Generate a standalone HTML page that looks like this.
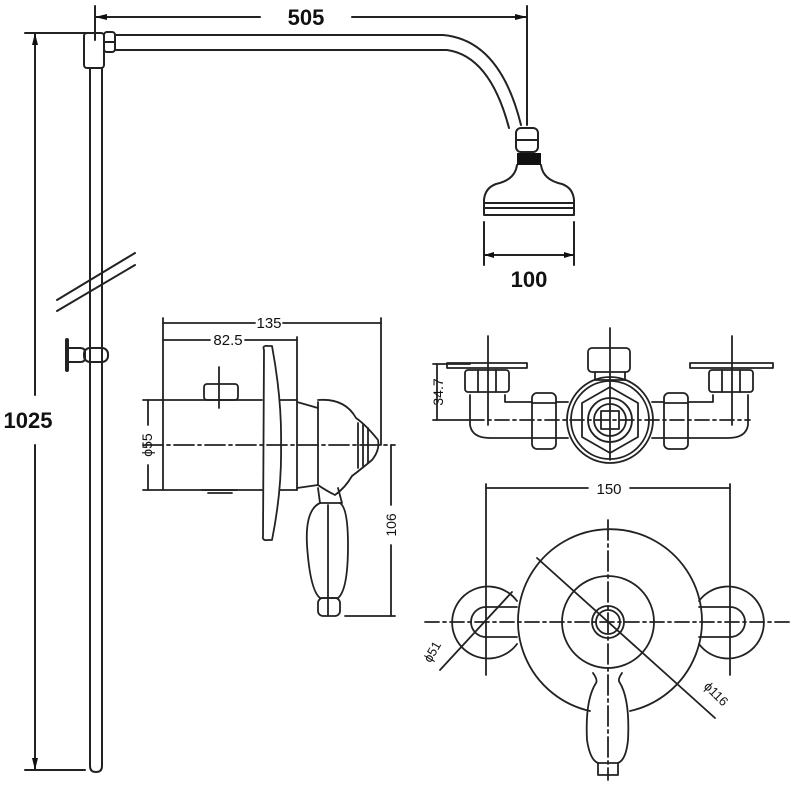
<!DOCTYPE html>
<html><head><meta charset="utf-8"><style>
html,body{margin:0;padding:0;background:#fff}
svg{display:block}
text{font-family:"Liberation Sans",sans-serif;fill:#111}
</style></head><body>
<svg width="800" height="800" viewBox="0 0 800 800" xmlns="http://www.w3.org/2000/svg">
<g fill="none" stroke="#222" stroke-width="2" stroke-linecap="round" stroke-linejoin="round">
<line x1="95" y1="6" x2="95" y2="40"/>
<line x1="527" y1="6" x2="527" y2="125"/>
<line x1="95" y1="17" x2="260" y2="17"/>
<line x1="352" y1="17" x2="527" y2="17"/>
<line x1="25" y1="33" x2="88" y2="33"/>
<line x1="25" y1="770" x2="85" y2="770"/>
<line x1="35" y1="33" x2="35" y2="395"/>
<line x1="35" y1="445" x2="35" y2="770"/>
<path d="M90 68 V766 Q90 772 96 772 Q102 772 102 766 V68"/>
<rect x="84" y="33" width="20" height="35" rx="3"/>
<rect x="104" y="32" width="11" height="20" rx="3"/>
<line x1="104" y1="42" x2="115" y2="42"/>
<path d="M115 35 H443 Q500 40 521 125"/>
<path d="M115 50 H447 Q490 56 509 128"/>
<rect x="516" y="128" width="22" height="24" rx="5"/>
<line x1="516" y1="140" x2="538" y2="140"/>
<path d="M517 165 Q515 180 496 184 Q485 188 484 200 V215 H574 V200 Q573 188 562 184 Q543 180 541 165"/>
<line x1="484" y1="203" x2="574" y2="203"/>
<line x1="484" y1="208" x2="574" y2="208"/>
<line x1="484" y1="222" x2="484" y2="265"/>
<line x1="574" y1="222" x2="574" y2="265"/>
<line x1="484" y1="255" x2="574" y2="255"/>
<line x1="57" y1="300" x2="135" y2="253"/>
<line x1="57" y1="311" x2="135" y2="265"/>
<line x1="67" y1="340" x2="67" y2="370" stroke-width="4"/>
<path d="M67 348 H80 Q85 348 85 352 V358 Q85 362 80 362 H67"/>
<rect x="84" y="348" width="24" height="14" rx="6"/>

<g stroke-width="1.8">
<line x1="163" y1="318" x2="163" y2="490"/>
<line x1="297" y1="337" x2="297" y2="490"/>
<line x1="381" y1="318" x2="381" y2="445"/>
<line x1="163" y1="323" x2="255" y2="323"/><line x1="283" y1="323" x2="381" y2="323"/>
<line x1="163" y1="340" x2="210" y2="340"/><line x1="245" y1="340" x2="297" y2="340"/>
<line x1="143" y1="400" x2="262" y2="400"/><line x1="143" y1="490" x2="262" y2="490"/>
<line x1="148" y1="400" x2="148" y2="425"/><line x1="148" y1="465" x2="148" y2="490"/>
<rect x="204" y="384" width="34" height="16" rx="3"/>
<line x1="219" y1="367" x2="219" y2="408"/>
<path d="M202 490 H237 M208 493 H232"/>
<path d="M264 350 Q262 345 268 346 H272 Q282 400 281 445 Q282 490 272 540 H268 Q262 541 263 536 Z"/>
<line x1="280" y1="400" x2="297" y2="400"/><line x1="280" y1="490" x2="297" y2="490"/>
<path d="M297 402 L318 408 M297 488 L318 485"/>
<path d="M318 402 V485 M318 400 Q345 398 356 418 Q366 425 378 440 Q380 450 372 460 Q360 470 352 476 Q345 488 335 495 Q325 490 318 485"/>
<path d="M358 423 V468 M363 425 V466 M368 428 V463"/>
<line x1="143" y1="445" x2="395" y2="445" stroke-dasharray="20 4 3 4"/>
<path d="M318 488 L320 503 H342 L338 488"/>
<path d="M320 503 Q305 510 307 545 Q310 590 320 598 H338 Q348 590 348 545 Q348 508 340 503"/>
<line x1="328" y1="505" x2="328" y2="615"/>
<rect x="318" y="598" width="22" height="18" rx="5"/>
<line x1="345" y1="616" x2="395" y2="616"/>
<line x1="391" y1="445" x2="391" y2="505"/><line x1="391" y1="545" x2="391" y2="616"/>
</g>

<g stroke-width="1.8">
<line x1="437" y1="364" x2="437" y2="420"/>
<line x1="433" y1="364" x2="470" y2="364"/><line x1="433" y1="420" x2="470" y2="420"/>
<rect x="447" y="363" width="80" height="5"/>
<rect x="690" y="363" width="83" height="5"/>
<rect x="465" y="370" width="44" height="22" rx="3"/>
<rect x="709" y="370" width="44" height="22" rx="3"/>
<line x1="478" y1="370" x2="478" y2="392"/><line x1="496" y1="370" x2="496" y2="392"/>
<line x1="722" y1="370" x2="722" y2="392"/><line x1="740" y1="370" x2="740" y2="392"/>
<path d="M470 395 V425 Q472 438 490 438 H532 M505 395 V402 Q505 402 510 402 H532"/>
<path d="M748 395 V425 Q746 438 728 438 H688 M713 395 V402 H688"/>
<rect x="532" y="393" width="24" height="56" rx="5"/>
<rect x="664" y="393" width="24" height="56" rx="5"/>
<line x1="532" y1="403" x2="556" y2="403"/><line x1="532" y1="438" x2="556" y2="438"/>
<line x1="664" y1="403" x2="688" y2="403"/><line x1="664" y1="438" x2="688" y2="438"/>
<line x1="556" y1="402" x2="568" y2="402"/><line x1="556" y1="438" x2="568" y2="438"/>
<line x1="652" y1="402" x2="664" y2="402"/><line x1="652" y1="438" x2="664" y2="438"/>
<circle cx="610" cy="420" r="43"/><circle cx="610" cy="420" r="39"/>
<polygon points="610,387 638,403 638,437 610,453 582,437 582,403"/>
<circle cx="610" cy="420" r="22"/><circle cx="610" cy="420" r="16"/>
<rect x="601" y="411" width="18" height="18"/>
<rect x="588" y="348" width="42" height="24" rx="4"/>
<line x1="595" y1="372" x2="595" y2="380"/><line x1="625" y1="372" x2="625" y2="380"/>
<line x1="595" y1="380" x2="625" y2="380"/>
<line x1="610" y1="328" x2="610" y2="460"/>
<line x1="488" y1="336" x2="488" y2="425"/>
<line x1="732" y1="336" x2="732" y2="425"/>
<line x1="470" y1="420" x2="750" y2="420" stroke-dasharray="14 4 3 4"/>
</g>

<g stroke-width="1.8">
<line x1="486" y1="484" x2="486" y2="675"/>
<line x1="730" y1="484" x2="730" y2="675"/>
<line x1="486" y1="488" x2="588" y2="488"/><line x1="630" y1="488" x2="730" y2="488"/>
<path d="M517 601 A36 36 0 1 0 517 644"/>
<path d="M699 601 A36 36 0 1 1 699 644"/>
<path d="M517 607 H486 A15 15 0 0 0 486 637 H517"/>
<path d="M699 607 H730 A15 15 0 0 1 730 637 H699"/>
<path d="M590 711 A92 92 0 1 1 630 711"/>
<circle cx="608" cy="622" r="46"/>
<circle cx="608" cy="622" r="16"/><circle cx="608" cy="622" r="12"/>
<line x1="425" y1="622" x2="790" y2="622" stroke-dasharray="14 4 3 4"/>
<line x1="608" y1="520" x2="608" y2="780" stroke-dasharray="20 4 3 4"/>
<line x1="537" y1="558" x2="715" y2="718"/>
<line x1="440" y1="670" x2="512" y2="592"/>
<path d="M593 673 Q598 680 596 683 Q585 700 587 740 Q590 760 598 763 H618 Q626 760 628 740 Q630 700 620 683 Q617 680 622 673"/>
<path d="M598 763 V775 H618 V763"/>
</g>
</g>
<g stroke="none" fill="#111">
<rect x="517" y="153" width="24" height="12"/>
<path d="M95 17 l12 -3 v6 z M527 17 l-12 -3 v6z M35 33 l-3 12 h6z M35 770 l-3 -12 h6z M484 255 l10 -3 v6z M574 255 l-10 -3 v6z"/>
</g>
<text x="306" y="25" font-size="22" font-weight="bold" text-anchor="middle">505</text>
<text x="28" y="428" font-size="22" font-weight="bold" text-anchor="middle">1025</text>
<text x="529" y="287" font-size="22" font-weight="bold" text-anchor="middle">100</text>
<text x="269" y="328" font-size="15" text-anchor="middle">135</text>
<text x="228" y="345" font-size="15" text-anchor="middle">82.5</text>
<text font-size="14" text-anchor="middle" transform="translate(152,445) rotate(-90)">ϕ55</text>
<text font-size="14" text-anchor="middle" transform="translate(396,525) rotate(-90)">106</text>
<text font-size="14" text-anchor="middle" transform="translate(443,392) rotate(-90)">34.7</text>
<text x="609" y="494" font-size="15" text-anchor="middle">150</text>
<text font-size="13" text-anchor="middle" transform="translate(436,654) rotate(-60)">ϕ51</text>
<text font-size="13" text-anchor="middle" transform="translate(713,697) rotate(45)">ϕ116</text>
</svg>
</body></html>
